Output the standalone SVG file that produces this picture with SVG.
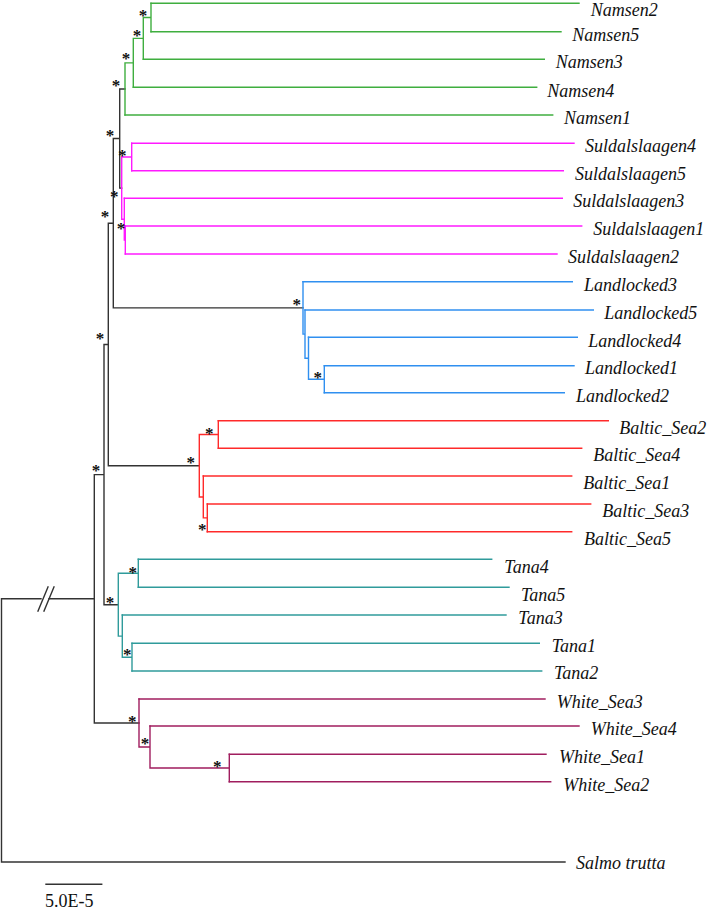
<svg xmlns="http://www.w3.org/2000/svg" width="709" height="911" viewBox="0 0 709 911">
<style>
.b{fill:none;stroke-width:1.4;stroke-linecap:square}
.k{stroke:#333}
.g{stroke:#3fae3f}
.p{stroke:#ff1aff}
.u{stroke:#2f8ff0}
.r{stroke:#ff2a2a}
.t{stroke:#2f9b9b}
.w{stroke:#a01d5e}
.lab{font-family:"Liberation Serif","Times New Roman",serif;font-style:italic;font-size:18px;fill:#111}
.s{font-family:"Liberation Serif","Times New Roman",serif;font-weight:bold;font-size:17px;fill:#111;text-anchor:middle}
.sc{font-family:"Liberation Serif","Times New Roman",serif;font-size:18px;fill:#111}
</style>
<rect width="709" height="911" fill="#fff"/>
<g id="connectors">
<path class="b k" d="M119.7 89H125 M119.7 89V188.1 M119.7 188.1H121.7 M113.3 138.5H119.7 M113.3 138.5V307.9 M113.3 307.9H303 M108.3 223.2H113.3 M108.3 223.2V465.7 M108.3 465.7H199.3 M104 344.5H108.3 M104 344.5V604.7 M104 604.7H118.3 M94.3 474.6H104 M94.3 474.6V723 M94.3 723H139 M1.5 598.8H41 M49 598.8H94.3 M1.5 598.8V862 M1.5 862H565"/>
<path class="b k" d="M38 611L48 587 M44 611L54 587"/>
<path class="b g" d="M151 3.3V31.7 M143.3 17.5H151 M143.3 17.5V59.3 M133.3 38.4H143.3 M133.3 38.4V87.3 M125 62.9H133.3 M125 62.9V115"/>
<path class="b p" d="M131.7 143.3V170.7 M121.7 157H131.7 M125.3 226V254 M124.3 240H125.3 M124.3 198.3V240 M121.7 219.2H124.3 M121.7 157V219.2"/>
<path class="b u" d="M324.3 365.7V392.7 M308.5 379.2H324.3 M308.5 337.3V379.2 M305 358.2H308.5 M305 310V358.2 M303 334.1H305 M303 281.7V334.1"/>
<path class="b r" d="M218.3 420.7V448.3 M199.3 434.5H218.3 M207.3 504V531.7 M203.3 517.9H207.3 M203.3 476V517.9 M199.3 497H203.3 M199.3 434.5V497"/>
<path class="b t" d="M138.3 559.3V587.3 M118.3 573.3H138.3 M132 643.3V671 M122.3 657.2H132 M122.3 615V657.2 M118.3 636.1H122.3 M118.3 573.3V636.1"/>
<path class="b w" d="M229.3 754.3V781.7 M150 768H229.3 M150 726V768 M139 747H150 M139 699V747"/>
</g>
<g id="Namsen2"><path class="b g" d="M151 3.3H579"/><text class="lab" x="590.7" y="16">Namsen2</text></g>
<g id="Namsen5"><path class="b g" d="M151 31.7H561"/><text class="lab" x="572.3" y="40.7">Namsen5</text></g>
<g id="Namsen3"><path class="b g" d="M143.3 59.3H544.3"/><text class="lab" x="555.7" y="68.3">Namsen3</text></g>
<g id="Namsen4"><path class="b g" d="M133.3 87.3H536.7"/><text class="lab" x="547.3" y="96.7">Namsen4</text></g>
<g id="Namsen1"><path class="b g" d="M125 115H552.7"/><text class="lab" x="564" y="124">Namsen1</text></g>
<g id="Suldalslaagen4"><path class="b p" d="M131.7 143.3H574"/><text class="lab" x="585" y="151.7">Suldalslaagen4</text></g>
<g id="Suldalslaagen5"><path class="b p" d="M131.7 170.7H563.3"/><text class="lab" x="575" y="180">Suldalslaagen5</text></g>
<g id="Suldalslaagen3"><path class="b p" d="M124.3 198.3H562.3"/><text class="lab" x="573.3" y="206.7">Suldalslaagen3</text></g>
<g id="Suldalslaagen1"><path class="b p" d="M125.3 226H581.7"/><text class="lab" x="593.3" y="235">Suldalslaagen1</text></g>
<g id="Suldalslaagen2"><path class="b p" d="M125.3 254H557"/><text class="lab" x="568" y="263">Suldalslaagen2</text></g>
<g id="Landlocked3"><path class="b u" d="M303 281.7H572.3"/><text class="lab" x="584" y="291">Landlocked3</text></g>
<g id="Landlocked5"><path class="b u" d="M305 310H593.3"/><text class="lab" x="604.3" y="319.3">Landlocked5</text></g>
<g id="Landlocked4"><path class="b u" d="M308.5 337.3H577.3"/><text class="lab" x="588.3" y="346.7">Landlocked4</text></g>
<g id="Landlocked1"><path class="b u" d="M324.3 365.7H574"/><text class="lab" x="585" y="374.3">Landlocked1</text></g>
<g id="Landlocked2"><path class="b u" d="M324.3 392.7H564.3"/><text class="lab" x="576" y="401.7">Landlocked2</text></g>
<g id="Baltic_Sea2"><path class="b r" d="M218.3 420.7H608.3"/><text class="lab" x="619.3" y="434">Baltic_Sea2</text></g>
<g id="Baltic_Sea4"><path class="b r" d="M218.3 448.3H581.7"/><text class="lab" x="593.3" y="461">Baltic_Sea4</text></g>
<g id="Baltic_Sea1"><path class="b r" d="M203.3 476H571.7"/><text class="lab" x="583.3" y="489">Baltic_Sea1</text></g>
<g id="Baltic_Sea3"><path class="b r" d="M207.3 504H590.7"/><text class="lab" x="602.3" y="517">Baltic_Sea3</text></g>
<g id="Baltic_Sea5"><path class="b r" d="M207.3 531.7H571.7"/><text class="lab" x="584" y="544.5">Baltic_Sea5</text></g>
<g id="Tana4"><path class="b t" d="M138.3 559.3H491.7"/><text class="lab" x="504.3" y="572.5">Tana4</text></g>
<g id="Tana5"><path class="b t" d="M138.3 587.3H509"/><text class="lab" x="521" y="600.5">Tana5</text></g>
<g id="Tana3"><path class="b t" d="M122.3 615H506"/><text class="lab" x="518.3" y="623.5">Tana3</text></g>
<g id="Tana1"><path class="b t" d="M132 643.3H539.3"/><text class="lab" x="551.7" y="651.7">Tana1</text></g>
<g id="Tana2"><path class="b t" d="M132 671H541.7"/><text class="lab" x="554" y="679.3">Tana2</text></g>
<g id="White_Sea3"><path class="b w" d="M139 699H545"/><text class="lab" x="556.7" y="708.3">White_Sea3</text></g>
<g id="White_Sea4"><path class="b w" d="M150 726H579"/><text class="lab" x="590.7" y="735">White_Sea4</text></g>
<g id="White_Sea1"><path class="b w" d="M229.3 754.3H546"/><text class="lab" x="559" y="763.3">White_Sea1</text></g>
<g id="White_Sea2"><path class="b w" d="M229.3 781.7H550.7"/><text class="lab" x="563.3" y="790.7">White_Sea2</text></g>
<g id="Salmo_trutta"><text class="lab" x="576" y="869">Salmo trutta</text></g>
<g id="support">
<text class="s" x="143" y="21">*</text>
<text class="s" x="137" y="41">*</text>
<text class="s" x="126" y="64">*</text>
<text class="s" x="116" y="91">*</text>
<text class="s" x="110" y="141">*</text>
<text class="s" x="122.3" y="161">*</text>
<text class="s" x="114.3" y="202">*</text>
<text class="s" x="105" y="222">*</text>
<text class="s" x="121" y="234">*</text>
<text class="s" x="296.7" y="310">*</text>
<text class="s" x="317.7" y="383">*</text>
<text class="s" x="100" y="344">*</text>
<text class="s" x="209.3" y="439">*</text>
<text class="s" x="190.7" y="468">*</text>
<text class="s" x="96" y="476">*</text>
<text class="s" x="202.3" y="535">*</text>
<text class="s" x="132.7" y="578">*</text>
<text class="s" x="110" y="608">*</text>
<text class="s" x="127.3" y="660">*</text>
<text class="s" x="132.3" y="727">*</text>
<text class="s" x="145" y="749">*</text>
<text class="s" x="217.3" y="772">*</text>
</g>
<g id="scale">
<path class="b k" d="M46 884.3H101.7"/>
<text class="sc" x="45" y="906.5">5.0E-5</text>
</g>
</svg>
